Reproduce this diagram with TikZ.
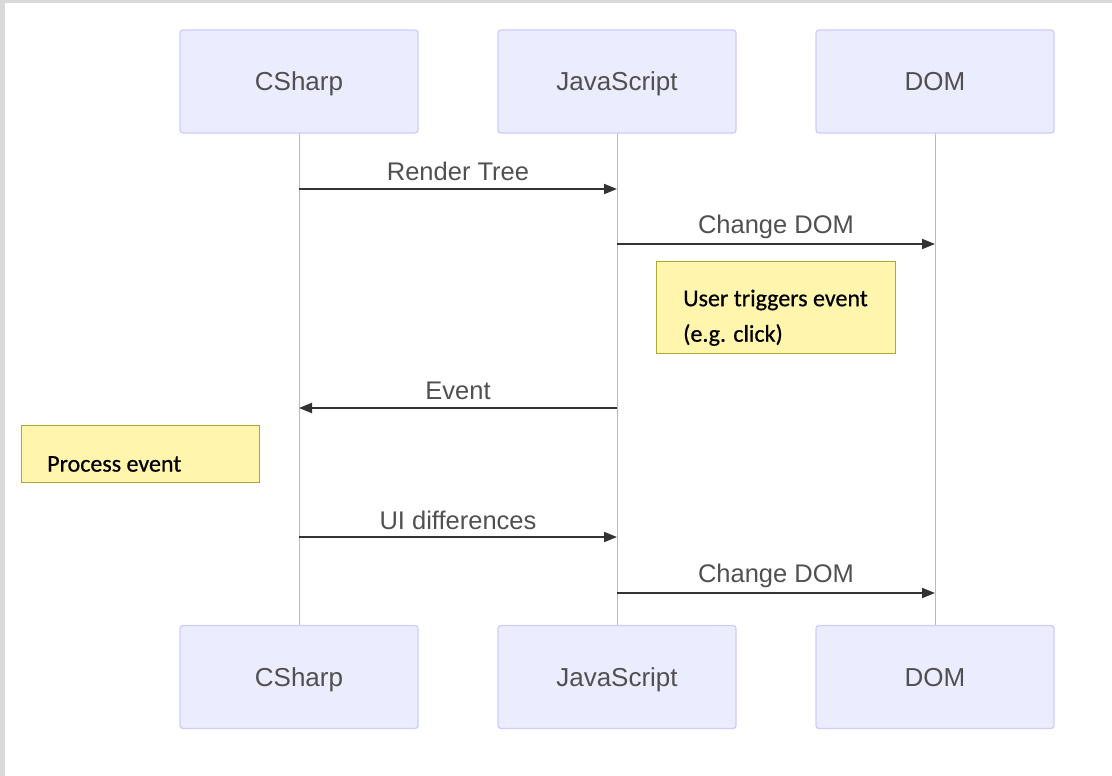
\documentclass[tikz,border=0pt]{standalone}
\usepackage{fontspec}
\setmainfont{Liberation Sans}
\newfontfamily\notefont[FakeBold=0.6]{Carlito}
\usetikzlibrary{arrows.meta}
\definecolor{actfill}{HTML}{ECECFF}
\definecolor{actdraw}{HTML}{CCCCFF}
\definecolor{notefill}{HTML}{FFF5AD}
\definecolor{notedraw}{HTML}{AAAA33}
\definecolor{txt}{HTML}{505050}
\definecolor{msgline}{HTML}{333333}
\definecolor{life}{HTML}{BBBBBB}
\definecolor{frame}{HTML}{D9D9D9}
\begin{document}
\begin{tikzpicture}[x=1pt,y=-1pt,
  actor/.style={draw=actdraw,fill=actfill,line width=1.3pt,rounded corners=3pt,
    minimum width=238pt,minimum height=103pt,inner sep=0pt,
    text height=18pt,text depth=0pt,
    font=\fontsize{26}{30}\selectfont,text=txt},
  notebox/.style={draw=notedraw,fill=notefill,line width=1.3pt,inner sep=0pt,anchor=north west},
  notetext/.style={font=\notefont\fontsize{24}{28}\selectfont,text=black,anchor=west,inner sep=0pt},
  lifeline/.style={draw=life,line width=1pt},
  msg/.style={draw=msgline,line width=2pt,-{Triangle[length=13pt,width=10pt]}},
  msglabel/.style={font=\fontsize{25.5}{30}\selectfont,text=txt,inner sep=0pt}]
\useasboundingbox (0,0) rectangle (1112,776);
\fill[frame] (0,0) rectangle (1112,3);
\fill[frame] (0,0) rectangle (5,776);
% lifelines
\coordinate (csT) at (299,133); \coordinate (csB) at (299,626);
\coordinate (jsT) at (617,133); \coordinate (jsB) at (617,626);
\coordinate (domT) at (935,133); \coordinate (domB) at (935,626);
\draw[lifeline] (csT) -- (csB);
\draw[lifeline] (jsT) -- (jsB);
\draw[lifeline] (domT) -- (domB);
% actors
\node[actor] (cs1) at (299,81.5) {CSharp};
\node[actor] (js1) at (617,81.5) {JavaScript};
\node[actor] (dom1) at (935,81.5) {DOM};
\node[actor] (cs2) at (299,677) {CSharp};
\node[actor] (js2) at (617,677) {JavaScript};
\node[actor] (dom2) at (935,677) {DOM};
% message anchors
\coordinate (m1a) at (299,189); \coordinate (m1b) at (617,189);
\coordinate (m2a) at (617,244); \coordinate (m2b) at (935,244);
\coordinate (m3a) at (617,408); \coordinate (m3b) at (299,408);
\coordinate (m4a) at (299,537); \coordinate (m4b) at (617,537);
\coordinate (m5a) at (617,593); \coordinate (m5b) at (935,593);
\draw[msg] (m1a) -- (m1b);
\draw[msg] (m2a) -- (m2b);
\draw[msg] (m3a) -- (m3b);
\draw[msg] (m4a) -- (m4b);
\draw[msg] (m5a) -- (m5b);
\node[msglabel] (l1) at (458,171) {Render Tree};
\node[msglabel] (l2) at (776,227) {Change DOM};
\node[msglabel] (l3) at (458,391) {Event};
\node[msglabel] (l4) at (458,520) {UI differences};
\node[msglabel] (l5) at (776,576) {Change DOM};
% notes
\node[notebox,minimum width=239pt,minimum height=92pt] (n1) at (656,261) {};
\node[notetext] (n1a) at (683,300) {User triggers event};
\node[notetext] (n1b) at (683,335) {(e.g. click)};
\node[notebox,minimum width=238pt,minimum height=57pt] (n2) at (21,425) {};
\node[notetext] (n2a) at (47,464) {Process event};
\end{tikzpicture}
\end{document}
